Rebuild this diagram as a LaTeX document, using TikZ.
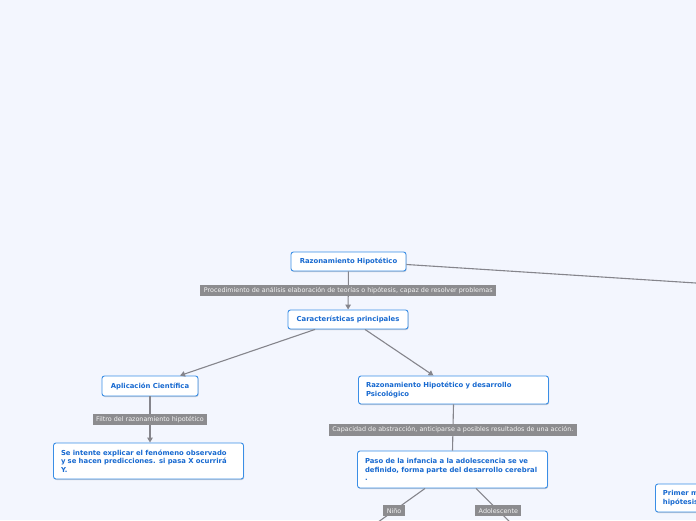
\documentclass[tikz,border=0pt]{standalone}
\usepackage{fontspec}
\setmainfont{DejaVu Sans}
\usetikzlibrary{arrows.meta,shadows}

\definecolor{bgcol}{HTML}{F3F6FE}
\definecolor{topicborder}{HTML}{3A8EE6}
\definecolor{topictext}{HTML}{1769D0}
\definecolor{lblfill}{HTML}{8C8C8F}
\definecolor{lbltext}{HTML}{F2F2F2}
\definecolor{linkcol}{HTML}{85858C}

\tikzset{
    topic/.style={draw=topicborder, fill=white, rounded corners=2.5pt, line width=0.9pt,
        text=topictext, font=\fontsize{6.85}{8.6}\selectfont\bfseries,
        inner xsep=6pt, inner ysep=3pt,
        drop shadow={shadow xshift=0.6pt, shadow yshift=-1pt, fill=black, opacity=0.18}},
    widetopic/.style={topic, text width=175pt, align=left, inner xsep=7.5pt},
    lbl/.style={fill=lblfill, text=lbltext, font=\fontsize{6.4}{7.5}\selectfont,
        inner xsep=3.5pt, inner ysep=1.5pt, minimum height=11.5pt},
    link/.style={draw=linkcol, line width=1.1pt},
    arr/.style={link, -{Triangle[length=5pt,width=5.5pt]}}
}

\begin{document}
\begin{tikzpicture}[x=1pt, y=-1pt]
        \useasboundingbox (0,0) rectangle (696,520);
        \fill[bgcol] (0,0) rectangle (696,520);
        \clip (0,0) rectangle (696,520);

        % Topics
        \node[topic, minimum width=115pt, minimum height=19pt] (root) at (348.5,261.5) {Razonamiento Hipotético};
        \node[topic, minimum width=120pt, minimum height=19pt] (car) at (348,319.5) {Características principales};
        \node[topic, minimum width=96pt, minimum height=20pt] (apl) at (150,386) {Aplicación Científica};
        \node[widetopic, minimum height=36pt] (intente) at (148.5,461) {Se intente explicar el fenómeno observado\\y se hacen predicciones. si pasa X ocurrirá\\Y.};
        \node[widetopic, minimum height=28pt] (psi) at (453.5,390) {Razonamiento Hipotético y desarrollo\\Psicológico};
        \node[widetopic, minimum height=37pt] (paso) at (452.5,469.5) {Paso de la infancia a la adolescencia se ve\\definido, forma parte del desarrollo cerebral\\.};
        \node[widetopic, minimum height=28pt, anchor=west] (primer) at (655,498) {Primer m\\hipótesis};

        % Free ends of links that leave the page
        \coordinate (far) at (760,287.1);
        \coordinate (ninoend) at (353,540);
        \coordinate (adolend) at (528,540);

        % Links
        \draw[link] ([yshift=-3pt]root.east) -- (far);
        \draw[arr] (root) -- node[lbl] {Procedimiento de análisis elaboración de teorías o hipótesis, capaz de resolver problemas} (car);
        \draw[arr] ([xshift=-33pt]car.south) -- ([xshift=30pt]apl.north);
        \draw[arr] ([xshift=17pt]car.south) -- ([xshift=-20pt]psi.north);
        \draw[arr] (apl.south) -- node[lbl] {Filtro del razonamiento hipotético} (apl.south |- intente.north);
        \draw[link] (psi.south) -- node[lbl, pos=0.55] {Capacidad de abstracción, anticiparse a posibles resultados de una acción.} (paso.north);
        \draw[link] ([xshift=-27.5pt]paso.south) -- node[lbl, pos=0.43] {Niño} (ninoend);
        \draw[link] ([xshift=23.5pt]paso.south) -- node[lbl, pos=0.43] {Adolescente} (adolend);
\end{tikzpicture}
\end{document}
